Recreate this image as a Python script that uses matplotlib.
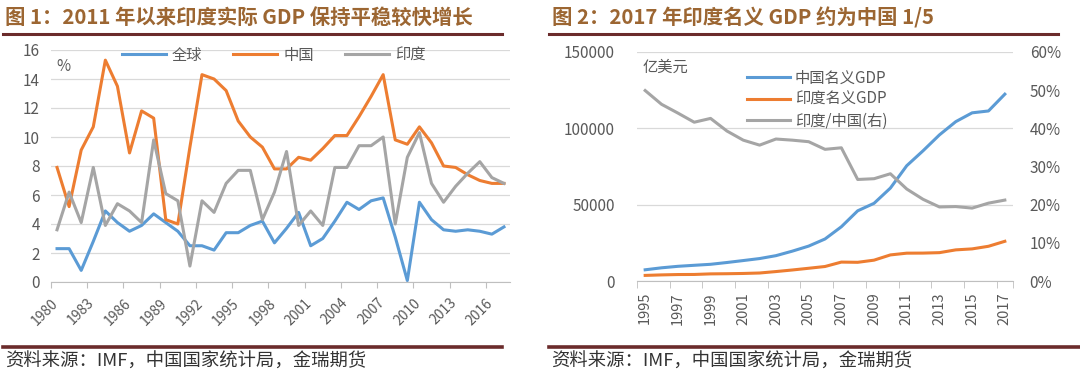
import matplotlib
matplotlib.use("Agg")
import matplotlib.pyplot as plt
from matplotlib.lines import Line2D
from matplotlib.ticker import PercentFormatter

plt.rcParams['font.family'] = ['Noto Sans CJK SC', 'DejaVu Sans']

# chart 1: real GDP growth, %
years1 = list(range(1980, 2018))
world = [2.3, 2.3, 0.8, 2.8, 4.9, 4.1, 3.5, 3.9, 4.7, 4.1,
         3.5, 2.5, 2.5, 2.2, 3.4, 3.4, 3.9, 4.2, 2.7, 3.7,
         4.8, 2.5, 3.0, 4.2, 5.5, 5.0, 5.6, 5.8, 3.1, 0.1,
         5.5, 4.3, 3.6, 3.5, 3.6, 3.5, 3.3, 3.8]
china = [7.9, 5.2, 9.1, 10.7, 15.3, 13.5, 8.9, 11.8, 11.3, 4.3,
         4.0, 9.3, 14.3, 14.0, 13.2, 11.1, 10.0, 9.3, 7.8, 7.8,
         8.6, 8.4, 9.2, 10.1, 10.1, 11.4, 12.8, 14.3, 9.8, 9.5,
         10.7, 9.6, 8.0, 7.9, 7.4, 7.0, 6.8, 6.8]
india = [3.6, 6.2, 4.1, 7.9, 3.9, 5.4, 4.9, 4.1, 9.8, 6.1,
         5.6, 1.1, 5.6, 4.8, 6.8, 7.7, 7.7, 4.3, 6.2, 9.0,
         3.9, 4.9, 3.9, 7.9, 7.9, 9.4, 9.4, 10.0, 4.0, 8.6,
         10.3, 6.8, 5.5, 6.6, 7.5, 8.3, 7.2, 6.8]

# chart 2: nominal GDP, 100 million USD, and ratio
years2 = list(range(1995, 2018))
china_gdp = [7345, 8637, 9617, 10290, 10940, 12113, 13394, 14705, 16602, 19553,
             22860, 27521, 35522, 45982, 50887, 60871, 75515, 85322, 95704, 104385,
             110155, 111379, 122377]
india_gdp = [3664, 3996, 4233, 4284, 4665, 4766, 4939, 5238, 6183, 7214,
             8342, 9493, 12387, 12241, 13653, 17085, 18230, 18276, 18567, 20391,
             21035, 22743, 26000]
ratio = [0.499, 0.463, 0.440, 0.416, 0.426, 0.393, 0.369, 0.356, 0.372, 0.369,
         0.365, 0.345, 0.349, 0.266, 0.268, 0.281, 0.241, 0.214, 0.194, 0.195,
         0.191, 0.204, 0.212]

BLUE = '#5B9BD5'
ORANGE = '#ED7D31'
GRAY = '#A5A5A5'
TXT = '#595959'
GRID = '#D9D9D9'
TITLE = '#9C6632'
RULE = '#6B2B2B'

W, H = 1080, 378
fig = plt.figure(figsize=(W / 100, H / 100), dpi=100)


def box(x0, y0, x1, y1):
    return [x0 / W, 1 - y1 / H, (x1 - x0) / W, (y1 - y0) / H]


def hline(x0, x1, y, lw, color):
    fig.add_artist(Line2D([x0 / W, x1 / W], [1 - y / H, 1 - y / H],
                          transform=fig.transFigure, color=color, lw=lw))


def style(ax):
    for s in ['left', 'right', 'top']:
        ax.spines[s].set_visible(False)
    ax.spines['bottom'].set_color('#BFBFBF')
    ax.grid(axis='y', color=GRID, lw=0.9)
    ax.set_axisbelow(True)
    ax.tick_params(axis='y', length=0, colors=TXT, labelsize=11)


# ---- chart 1
ax1 = fig.add_axes(box(51, 50, 510, 282))
style(ax1)
idx1 = list(range(len(years1)))
ax1.plot(idx1, world, color=BLUE, lw=2.2, label='全球')
ax1.plot(idx1, china, color=ORANGE, lw=2.2, label='中国')
ax1.plot(idx1, india, color=GRAY, lw=2.2, label='印度')
ax1.set_xlim(-0.5, len(years1) - 0.5)
ax1.set_ylim(0, 16)
ax1.set_yticks(range(0, 17, 2))
ax1.tick_params(axis='y', pad=8)
pos = [i - 0.5 for i in idx1[::3]]
ax1.set_xticks(pos)
ax1.set_xticklabels([str(y) for y in years1[::3]], rotation=45, ha='right',
                    rotation_mode='anchor', fontsize=10, color=TXT)
ax1.tick_params(axis='x', length=4, color='#BFBFBF', pad=6)
ax1.text(0.012, 0.91, '%', transform=ax1.transAxes, fontsize=11, color=TXT)
ax1.legend(ncol=3, loc='center', bbox_to_anchor=(0.485, 0.978), frameon=False,
           fontsize=11, handlelength=2.9, columnspacing=2.0, handletextpad=0.4,
           labelcolor=TXT)

# ---- chart 2
ax2 = fig.add_axes(box(637, 52, 1013, 281))
style(ax2)
idx2 = list(range(len(years2)))
l1, = ax2.plot(idx2, china_gdp, color=BLUE, lw=2.2, label='中国名义GDP')
l2, = ax2.plot(idx2, india_gdp, color=ORANGE, lw=2.2, label='印度名义GDP')
ax2.set_xlim(-0.5, len(years2) - 0.5)
ax2.set_ylim(0, 150000)
ax2.set_yticks([0, 50000, 100000, 150000])
ax2.tick_params(axis='y', pad=16)
ax2.set_xticks(idx2[::2])
ax2.set_xticklabels([str(y) for y in years2[::2]], rotation=90, fontsize=10.5,
                    color=TXT)
ax2.tick_params(axis='x', length=0, pad=8)
ax2.set_xticks([i - 0.5 for i in idx2[::2]] + [len(years2) - 0.5], minor=True)
ax2.tick_params(axis='x', which='minor', length=5, color='#BFBFBF')

ax2r = ax2.twinx()
for s in ['left', 'right', 'top', 'bottom']:
    ax2r.spines[s].set_visible(False)
l3, = ax2r.plot(idx2, ratio, color=GRAY, lw=2.2, label='印度/中国(右)')
ax2r.set_ylim(0, 0.6)
ax2r.set_yticks([0, 0.1, 0.2, 0.3, 0.4, 0.5, 0.6])
ax2r.yaxis.set_major_formatter(PercentFormatter(1.0, decimals=0))
ax2r.tick_params(axis='y', length=0, colors=TXT, labelsize=11, pad=12)
ax2.text(0.015, 0.915, '亿美元', transform=ax2.transAxes, fontsize=11, color=TXT)
ax2r.legend(handles=[l1, l2, l3], loc='upper left',
            bbox_to_anchor=(0.265, 0.97), frameon=False, fontsize=11,
            handlelength=2.8, handletextpad=0.3, labelspacing=0.3,
            labelcolor=TXT, borderpad=0.2)

# ---- titles, rules and sources
fig.text(5 / W, 1 - 18 / H, '图 1：2011 年以来印度实际 GDP 保持平稳较快增长',
         fontsize=14.7, fontweight='bold', color=TITLE, va='center')
fig.text(552 / W, 1 - 18 / H, '图 2：2017 年印度名义 GDP 约为中国 1/5',
         fontsize=14.7, fontweight='bold', color=TITLE, va='center')
hline(3, 502, 34, 2.2, RULE)
hline(549, 1058, 34, 2.2, RULE)
hline(3, 502, 347, 2.6, RULE)
hline(549, 1080, 347, 2.6, RULE)
fig.text(5 / W, 1 - 362 / H, '资料来源：IMF，中国国家统计局，金瑞期货',
         fontsize=13.2, color='#333333', va='center')
fig.text(551 / W, 1 - 362 / H, '资料来源：IMF，中国国家统计局，金瑞期货',
         fontsize=13.2, color='#333333', va='center')

fig.savefig('out.png', dpi=100)
